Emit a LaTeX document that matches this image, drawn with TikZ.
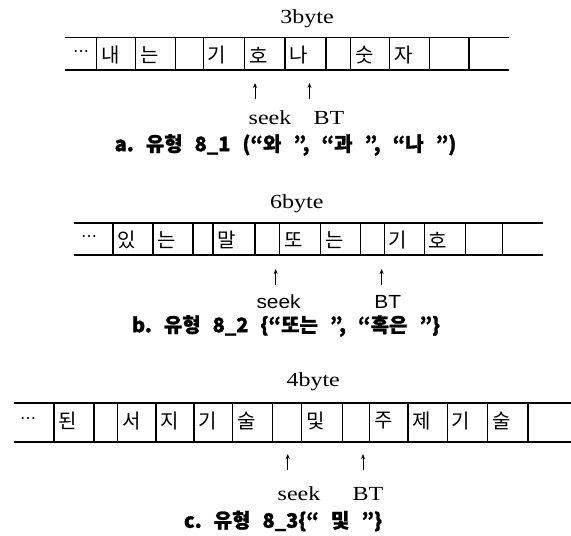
\documentclass[tikz,border=0pt]{standalone}
\usepackage{fontspec}
\usetikzlibrary{arrows.meta}
\newfontfamily\kr{Noto Sans CJK KR}[BoldFeatures={FakeBold=1.3}]
\newfontfamily\serw[FakeStretch=1.2]{Liberation Serif}
\newfontfamily\sanw[FakeStretch=1.1]{Liberation Sans}
\newfontfamily\dej{DejaVu Sans}
\newcommand\kgap{\hspace{12pt}}
\tikzset{
  tape/.style={line width=1.3pt, line cap=rect},
  ch/.style={font=\kr\fontsize{20}{20}\selectfont, inner sep=0pt, anchor=west},
  dots/.style={font=\dej\fontsize{16}{16}\selectfont, inner sep=0pt},
  lbl/.style={font=\serw\fontsize{20}{20}\selectfont, inner sep=0pt},
  lbls/.style={font=\sanw\fontsize{19}{19}\selectfont, inner sep=0pt},
  captxt/.style={font=\kr\bfseries\fontsize{20}{20}\selectfont, inner sep=0pt},
  ptr/.style={-{Stealth[length=5pt,width=4pt]}, line width=0.8pt}
}
\begin{document}
\begin{tikzpicture}[x=1pt,y=-1pt]
\useasboundingbox (0,0) rectangle (571,536);
% ---------- row a ----------
\node[lbl] (bytea) at (307,19) {3byte};
\draw[tape] (65.5,37.5) -- (508,37.5) (65.5,70) -- (508,70);
\foreach \x in {96.5,135.5,175.5,203.2,244.7,285.1,325.9,350.3,389.7,429.7,469.0}
  \draw[tape] (\x,37.5) -- (\x,70);
\node[dots] (a0) at (81,54) {⋯};
\node[ch] (a1) at (101,55) {내};
\node[ch] (a2) at (140,55) {는};
\node[ch] (a3) at (207.7,55) {기};
\node[ch] (a4) at (249.2,55) {호};
\node[ch] (a5) at (289.6,55) {나};
\node[ch] (a6) at (354.8,55) {숫};
\node[ch] (a7) at (394.2,55) {자};
\coordinate (as0) at (255,99); \coordinate (as1) at (255,83);
\coordinate (ab0) at (309.5,99); \coordinate (ab1) at (309.5,83);
\draw[ptr] (as0) -- (as1);
\draw[ptr] (ab0) -- (ab1);
\node[lbl] (seeka) at (270,118) {seek};
\node[lbl] (bta) at (329,118) {BT};
\node[captxt] (capa) at (285.5,145) {a.\kgap 유형\kgap 8\_1\kgap (“와\kgap ”,\kgap “과\kgap ”,\kgap “나\kgap ”)};
% ---------- row b ----------
\node[lbl] (byteb) at (296.8,204) {6byte};
\draw[tape] (74.7,223) -- (541.9,223) (74.7,255) -- (541.9,255);
\foreach \x in {112.9,152.9,193.0,213.0,254.9,279.7,320.5,360.5,384.2,424.2,465.4,502.5}
  \draw[tape] (\x,223) -- (\x,255);
\node[dots] (b0) at (89,239) {⋯};
\node[ch] (b1) at (117.4,240) {있};
\node[ch] (b2) at (157.4,240) {는};
\node[ch] (b3) at (217.5,240) {말};
\node[ch] (b4) at (284.2,240) {또};
\node[ch] (b5) at (325.0,240) {는};
\node[ch] (b6) at (388.7,240) {기};
\node[ch] (b7) at (428.7,240) {호};
\coordinate (bs0) at (275.7,285); \coordinate (bs1) at (275.7,269);
\coordinate (bb0) at (381.6,285); \coordinate (bb1) at (381.6,269);
\draw[ptr] (bs0) -- (bs1);
\draw[ptr] (bb0) -- (bb1);
\node[lbls] (seekb) at (278.6,302) {seek};
\node[lbls] (btb) at (387.8,302) {BT};
\node[captxt] (capb) at (286,326) {b.\kgap 유형\kgap 8\_2\kgap \{“또는\kgap ”,\kgap “혹은\kgap ”\}};
% ---------- row c ----------
\node[lbl] (bytec) at (313.2,382) {4byte};
\draw[tape] (14.6,403) -- (571,403) (14.6,442) -- (571,442);
\foreach \x in {53.9,94.0,117.6,155.9,194.1,232.3,272.4,301.5,342.3,369.6,407.9,447.2,487.3,528.0}
  \draw[tape] (\x,403) -- (\x,442);
\node[dots] (c0) at (28,421) {⋯};
\node[ch] (c1) at (58.4,421) {된};
\node[ch] (c2) at (122.1,421) {서};
\node[ch] (c3) at (160.4,421) {지};
\node[ch] (c4) at (198.6,421) {기};
\node[ch] (c5) at (236.8,421) {술};
\node[ch] (c6) at (306.0,421) {및};
\node[ch] (c7) at (374.1,421) {주};
\node[ch] (c8) at (412.4,421) {제};
\node[ch] (c9) at (451.7,421) {기};
\node[ch] (c10) at (491.8,421) {술};
\coordinate (cs0) at (287.7,470); \coordinate (cs1) at (287.7,454);
\coordinate (cb0) at (363,470); \coordinate (cb1) at (363,454);
\draw[ptr] (cs0) -- (cs1);
\draw[ptr] (cb0) -- (cb1);
\node[lbl] (seekc) at (299,494) {seek};
\node[lbl] (btc) at (368,494) {BT};
\node[captxt] (capc) at (283,521) {c.\kgap 유형\kgap 8\_3\{“\kgap 및\kgap ”\}};
\end{tikzpicture}
\end{document}
